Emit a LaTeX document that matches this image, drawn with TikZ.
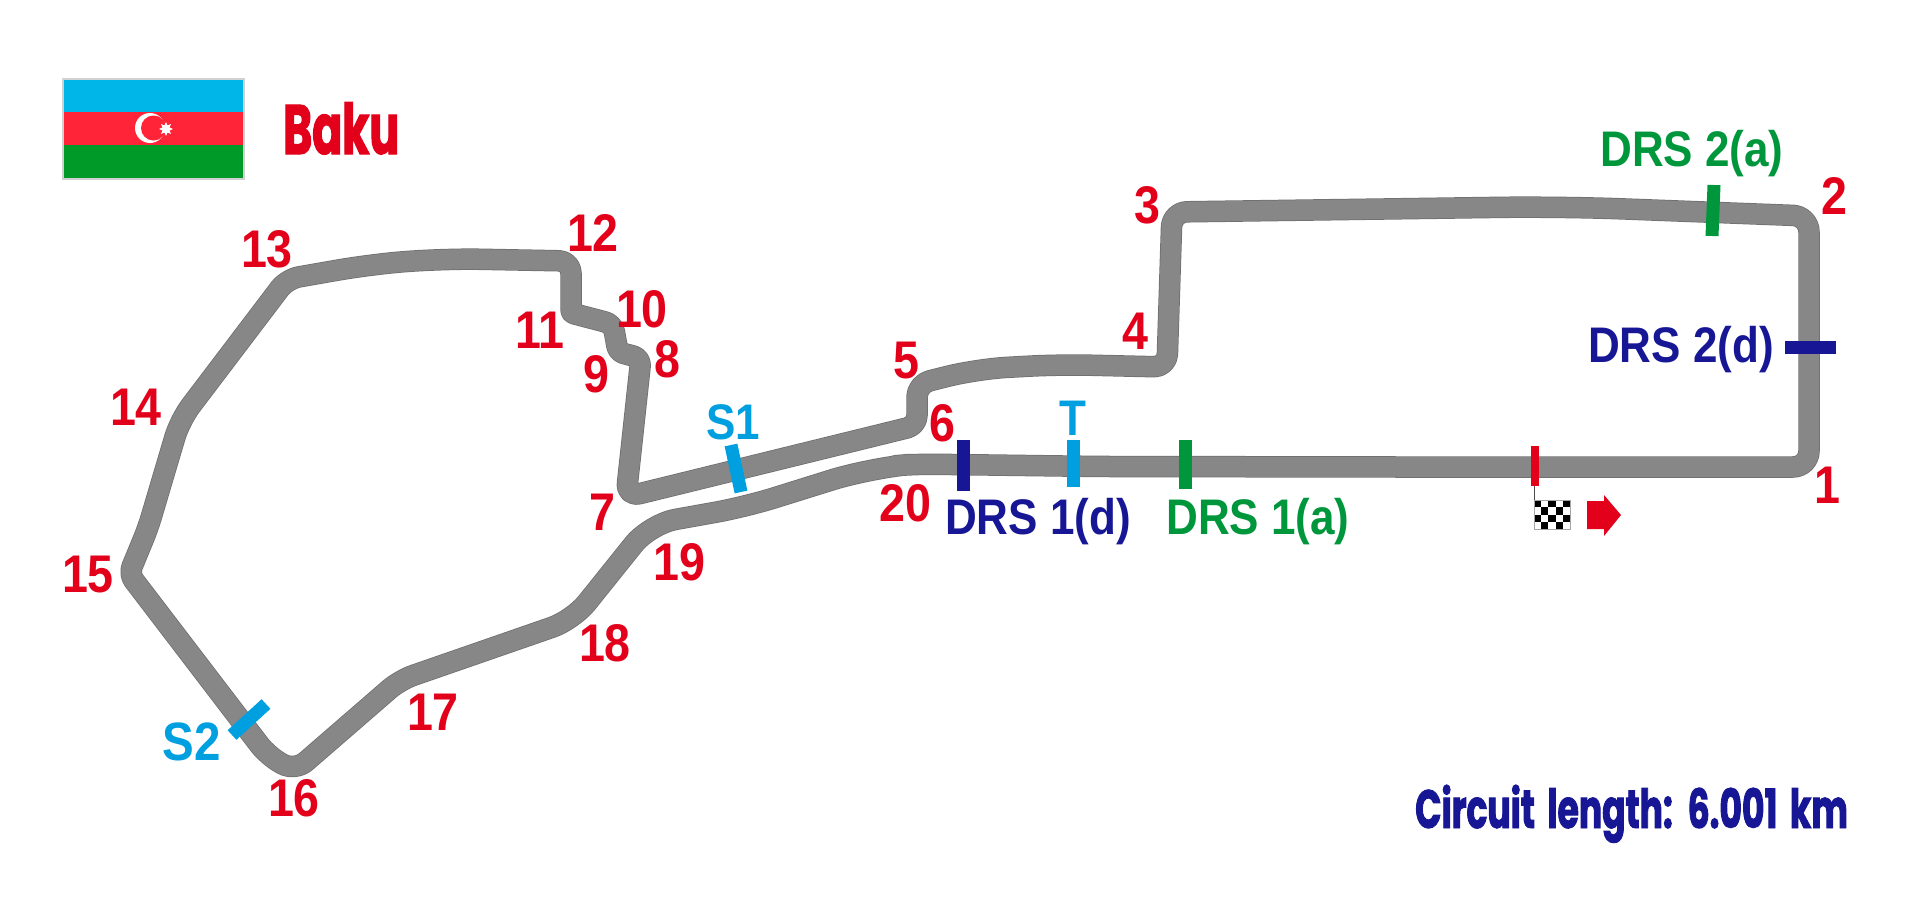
\documentclass[tikz,border=0pt]{standalone}
\usepackage{fontspec}
\usetikzlibrary{shapes.geometric}
\newfontfamily\lab[FakeStretch=0.88]{Liberation Sans Bold}
\newfontfamily\titlef[FakeStretch=0.64,FakeBold=1.6,WordSpace=1.7]{Poppins Bold}
\newfontfamily\titleg[FakeStretch=0.63,FakeBold=1.6]{Poppins Bold}
\definecolor{tred}{HTML}{E2001A}
\definecolor{tnavy}{HTML}{171796}
\definecolor{tgreen}{HTML}{00963C}
\definecolor{tcyan}{HTML}{009FE0}
\definecolor{tgrey}{HTML}{878787}
\definecolor{tedge}{HTML}{6E6E6E}
\definecolor{fcyan}{HTML}{00B6E8}
\definecolor{fred}{HTML}{FF2438}
\definecolor{fgreen}{HTML}{009A28}
\tikzset{
  num/.style={text=tred,inner sep=0pt,font=\lab\fontsize{53}{53}\selectfont},
  lbl/.style={inner sep=0pt,font=\lab\fontsize{50}{50}\selectfont},
  bar/.style={line width=#1,line cap=butt},
  ttl/.style={inner sep=0pt,anchor=base west},
}
\def\trackpath{(1400,467)
 [rounded corners=16pt] -- (1809,467)
 [rounded corners=16pt] -- (1809,216)
 [rounded corners=60pt] -- (1560,206.5)
 [rounded corners=15pt] -- (1172,212)
 [rounded corners=13pt] -- (1167,367)
 [rounded corners=30pt] -- (1060,364.5)
 [rounded corners=30pt] -- (977,369)
 [rounded corners=13pt] -- (917,384)
 [rounded corners=10pt] -- (917,425.5)
 [rounded corners=14pt] -- (626,497)
 [rounded corners=8pt] -- (641,358)
 [rounded corners=6pt] -- (618,352)
 [rounded corners=8pt] -- (613,324)
 [rounded corners=3pt] -- (571,313)
 [rounded corners=12pt] -- (571,261)
 [rounded corners=40pt] -- (440,258.5)
 [rounded corners=30pt] -- (367,265)
 [rounded corners=12pt] -- (287,279)
 [rounded corners=18pt] -- (180,420)
 [rounded corners=12pt] -- (148,528)
 [rounded corners=8pt] -- (129,574)
 [rounded corners=14pt] -- (268,756)
 [rounded corners=14pt] -- (295,771)
 [rounded corners=14pt] -- (400,680)
 [rounded corners=22pt] -- (573,620)
 [rounded corners=26pt] -- (650,524)
 [rounded corners=30pt] -- (745,507)
 [rounded corners=40pt] -- (870,468)
 [rounded corners=20pt] -- (915,464)
 [rounded corners=20pt] -- (1100,466.5)
 [sharp corners] -- cycle}
\begin{document}
\begin{tikzpicture}[x=1pt,y=-1pt]
\useasboundingbox (0,0) rectangle (1909,908);
% flag
\fill[fcyan] (63,79) rectangle (244,112);
\fill[fred] (63,112) rectangle (244,145);
\fill[fgreen] (63,145) rectangle (244,179);
\draw[black!18,line width=1.5pt] (63,79) rectangle (244,179);
\fill[white] (150,128) circle (15);
\fill[fred] (153.5,128) circle (12.5);
\node[star,star points=8,star point ratio=1.8,fill=white,inner sep=0pt,minimum size=14pt] (flagstar) at (166,129) {};
\node[ttl,text=tred,font=\titleg\fontsize{70}{70}\selectfont] (title) at (283,154) {Baku};
% track
\draw[tedge,line width=21.5pt,line join=round] \trackpath;
\draw[tgrey,line width=20pt,line join=round] \trackpath;
% markers
\draw[tnavy,bar=13pt] (963,440) -- (963,491);
\draw[tcyan,bar=13pt] (1073,440) -- (1073,487);
\draw[tgreen,bar=13pt] (1185,440) -- (1185,489);
\draw[tred,bar=8pt] (1535,446) -- (1535,486);
\draw[tcyan,bar=13pt] (731,445) -- (741,492);
\draw[tcyan,bar=13pt] (266,704) -- (232,735);
\draw[tgreen,bar=13pt] (1714,185) -- (1712,236);
\draw[tnavy,bar=13pt] (1785,347.5) -- (1836,347.5);
% chequered flag
\draw[black!70,line width=1pt] (1534,486) -- (1534,500);
\fill[white] (1534,500) rectangle (1570,529);
\foreach \c/\r in {0/0,2/0,4/0,1/1,3/1,0/2,2/2,4/2,1/3,3/3}
  \fill[black] ({1534+\c*7.2},{500+\r*7.25}) rectangle ++(7.2,7.25);
\draw[black!35,line width=.8pt] (1534,500) rectangle (1570,529);
% arrow
\fill[tred] (1587,501) -- (1604,501) -- (1604,495) -- (1621,515) -- (1604,536) -- (1604,529) -- (1587,529) -- cycle;
% corner numbers
\node[num] (n1) at (1827,485) {1};
\node[num] (n2) at (1834,196) {2};
\node[num] (n3) at (1147,205) {3};
\node[num] (n4) at (1135,331) {4};
\node[num] (n5) at (906,361) {5};
\node[num] (n6) at (942,423) {6};
\node[num] (n7) at (602,512) {7};
\node[num] (n8) at (667,359) {8};
\node[num] (n9) at (596,374) {9};
\node[num] (n10) at (642,309) {10};
\node[num] (n11) at (540,330) {11};
\node[num] (n12) at (593,233) {12};
\node[num] (n13) at (267,249) {13};
\node[num] (n14) at (136,407) {14};
\node[num] (n15) at (88,575) {15};
\node[num] (n16) at (294,798) {16};
\node[num] (n17) at (433,712) {17};
\node[num] (n18) at (605,643) {18};
\node[num] (n19) at (679,562) {19};
\node[num] (n20) at (905,503) {20};
% labels
\node[lbl,text=tcyan] (s1) at (733,422) {S1};
\node[lbl,text=tcyan,font=\lab\fontsize{54}{54}\selectfont] (s2) at (192,742) {S2};
\node[lbl,text=tcyan] (t) at (1073,418) {T};
\node[lbl,text=tnavy,anchor=base] (d1d) at (1038,534) {DRS 1(d)};
\node[lbl,text=tgreen,anchor=base] (d1a) at (1258,534) {DRS 1(a)};
\node[lbl,text=tgreen,anchor=base] (d2a) at (1692,166) {DRS 2(a)};
\node[lbl,text=tnavy,anchor=base] (d2d) at (1681,362) {DRS 2(d)};
\node[ttl,text=tnavy,font=\titlef\fontsize{54}{54}\selectfont] (len) at (1415,828) {Circuit length: 6.001 km};
\end{tikzpicture}
\end{document}
